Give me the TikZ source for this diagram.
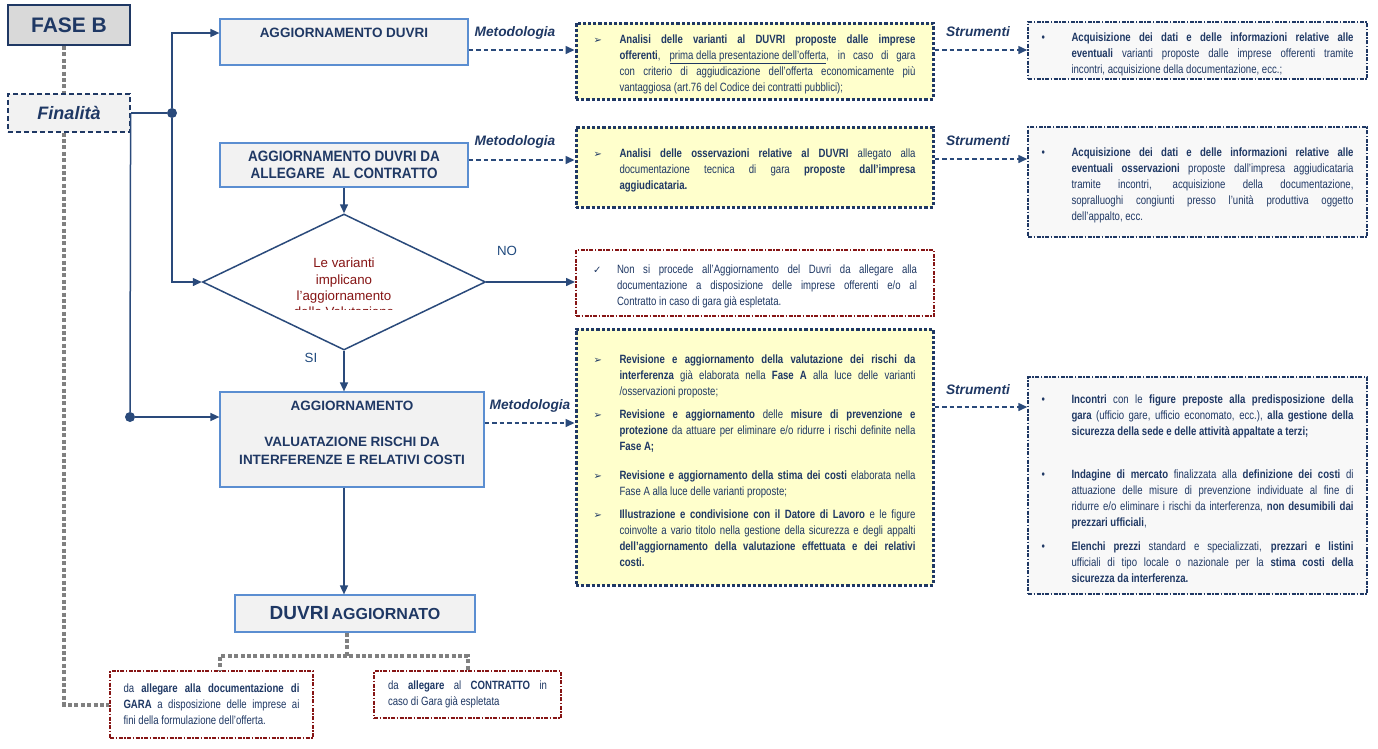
\documentclass[tikz,border=0pt]{standalone}
\usepackage{fontspec}
\setmainfont{Liberation Sans}
\newfontfamily\narrow[FakeStretch=0.8]{Liberation Sans}
\newfontfamily\stretto[FakeStretch=0.9]{Liberation Sans}
\newfontfamily\symf{DejaVu Sans}
\usetikzlibrary{arrows.meta,shapes.geometric}
\definecolor{navy}{HTML}{1F3864}
\definecolor{linie}{HTML}{2A4A7B}
\definecolor{bordo}{HTML}{5B8ED1}
\definecolor{blu}{HTML}{1F497D}
\definecolor{grigio}{HTML}{F2F2F2}
\definecolor{grigiofase}{HTML}{D9D9D9}
\definecolor{grigiochiaro}{HTML}{F8F8F8}
\definecolor{grigioscuro}{HTML}{808080}
\definecolor{giallino}{HTML}{FFFFCC}
\definecolor{rosso}{HTML}{861515}
\setlength{\parindent}{0pt}
\hyphenpenalty=10000 \exhyphenpenalty=10000 \tolerance=10000
\newcommand{\voce}[3]{\par\noindent\hangindent=#1\hangafter=0\llap{\makebox[#1][l]{#2}}#3\par}
\newcommand{\frecc}{{\symf\fontsize{10}{10}\selectfont ➢}}
\newcommand{\spunta}{{\symf\fontsize{10}{10}\selectfont ✓}}
\newcommand{\pallino}{•}
\begin{document}
\begin{tikzpicture}[x=1pt,y=-1pt,
  linea/.style={draw=linie,line width=1.5pt},
  freccia/.style={linea,-{Triangle[length=9pt,width=8pt]}},
  tratt/.style={freccia,dash pattern=on 4.5pt off 3pt},
  punti/.style={draw=grigioscuro,line width=4pt,dash pattern=on 4pt off 2.4pt},
  dot/.style={circle,fill=linie,inner sep=0pt,minimum size=10pt},
  fase/.style={draw=navy,fill=grigiofase,line width=2pt,minimum width=122pt,minimum height=40pt,text=navy,font=\bfseries\fontsize{21}{24}\selectfont},
  fin/.style={draw=navy,fill=grigio,line width=1.2pt,dash pattern=on 5pt off 3pt,minimum width=122pt,minimum height=38pt,text=navy,font=\bfseries\itshape\fontsize{18}{20}\selectfont},
  tbox/.style={draw=bordo,fill=grigio,line width=1.2pt},
  titolo/.style={text=navy,font=\bfseries\fontsize{13.5}{18}\selectfont,align=center},
  etich/.style={text=navy,font=\bfseries\itshape\fontsize{13.7}{16}\selectfont},
  siono/.style={text=blu,font=\fontsize{13.3}{16}\selectfont},
  rombo/.style={diamond,draw=linie,line width=1.5pt,fill=white,inner sep=0pt,minimum width=283pt,minimum height=136pt},
  domanda/.style={text=rosso,font=\fontsize{13.3}{16.3}\selectfont,align=center},
  testo/.style={text=navy,font=\narrow\fontsize{12}{16}\selectfont,align=justify,inner ysep=0pt},
  giallo/.style={testo,draw=navy,fill=giallino,line width=3pt,dash pattern=on 3.2pt off 2pt,text width=322pt,inner xsep=17.5pt},
  strum/.style={testo,draw=navy,fill=grigiochiaro,line width=1.5pt,dash pattern=on 4pt off 1.5pt on 1.5pt off 1.5pt,text width=312pt,inner xsep=13.5pt},
  nota/.style={testo,draw=rosso,fill=white,line width=2pt,dash pattern=on 4pt off 1.5pt on 1.5pt off 1.5pt}]
  \useasboundingbox (0,0) rectangle (1378,748);
  % colonna sinistra
  \node[fase] (fase) at (69,25) {FASE B};
  \node[fin] (fin) at (69,113) {Finalità};
  \node[dot] (j1) at (172,113) {}; \node[dot] (j2) at (130,417) {};
  % caselle centrali
  \node[tbox,minimum width=248pt,minimum height=46pt] (agg1) at (344,42) {};
  \node[titolo] (t1) at (344,33) {AGGIORNAMENTO DUVRI};
  \node[tbox,minimum width=248pt,minimum height=44pt,text=navy,align=center,font=\stretto\bfseries\fontsize{15}{17}\selectfont] (agg2) at (344,165) {AGGIORNAMENTO DUVRI DA\\ALLEGARE\ \ AL CONTRATTO};
  \node[rombo] (q) at (344,282) {};
  \begin{scope} \clip (200,210) rectangle (490,309);
    \node[domanda] (qt) at (344,287.5) {Le varianti\\implicano\\l’aggiornamento\\della Valutazione};
  \end{scope}
  \node[siono] (no) at (507,251) {NO}; \node[siono] (si) at (311,358) {SI};
  \node[tbox,minimum width=264pt,minimum height=95pt] (agg3) at (352,439.5) {};
  \node[titolo] (t3) at (352,433) {AGGIORNAMENTO\\[18pt]VALUATAZIONE RISCHI DA\\INTERFERENZE E RELATIVI COSTI};
  \node[tbox,minimum width=240pt,minimum height=37pt,text=navy,font=\bfseries] (duvri) at (355,613.5) {{\fontsize{19}{20}\selectfont DUVRI} {\fontsize{16}{20}\selectfont AGGIORNATO}};
  % etichette
  \node[etich] (m1) at (515,33) {Metodologia}; \node[etich] (m2) at (515,142) {Metodologia}; \node[etich] (m3) at (530,406) {Metodologia};
  \node[etich] (s1) at (978,32) {Strumenti}; \node[etich] (s2) at (978,141) {Strumenti}; \node[etich] (s3) at (978,390) {Strumenti};
  % metodologia
  \node[giallo,minimum height=76pt] (gia1) at (754.5,61) {\voce{26pt}{\frecc}{\textbf{Analisi delle varianti al DUVRI proposte dalle imprese} \linebreak \textbf{offerenti}, \underline{prima della presentazione dell’offerta}, in caso di gara \linebreak con criterio di aggiudicazione dell’offerta economicamente più \linebreak vantaggiosa (art.76 del Codice dei contratti pubblici);}};
  \node[giallo,minimum height=80pt] (gia2) at (754.5,167) {\voce{26pt}{\frecc}{\textbf{Analisi delle osservazioni relative al DUVRI} allegato alla \linebreak documentazione tecnica di gara \textbf{proposte dall’impresa} \linebreak \textbf{aggiudicataria.}}};
  \node[nota,text width=324pt,inner xsep=17pt,minimum height=66pt] (nono) at (755,283) {\voce{24pt}{\spunta}{Non si procede all’Aggiornamento del Duvri da allegare alla \linebreak documentazione a disposizione delle imprese offerenti e/o al \linebreak Contratto in caso di gara già espletata.}};
  \node[giallo,minimum height=256pt] (gia3) at (754.5,457) {%
    \voce{26pt}{\frecc}{\textbf{Revisione e aggiornamento della valutazione dei rischi da} \linebreak \textbf{interferenza} già elaborata nella \textbf{Fase A} alla luce delle varianti \linebreak /osservazioni proposte;}\vskip7pt
    \voce{26pt}{\frecc}{\textbf{Revisione e aggiornamento} delle \textbf{misure di prevenzione e} \linebreak \textbf{protezione} da attuare per eliminare e/o ridurre i rischi definite nella \linebreak \textbf{Fase A;}}\vskip13pt
    \voce{26pt}{\frecc}{\textbf{Revisione e aggiornamento della stima dei costi} elaborata nella \linebreak Fase A alla luce delle varianti proposte;}\vskip7pt
    \voce{26pt}{\frecc}{\textbf{Illustrazione e condivisione con il Datore di Lavoro} e le figure \linebreak coinvolte a vario titolo nella gestione della sicurezza e degli appalti \linebreak \textbf{dell’aggiornamento della valutazione effettuata e dei relativi} \linebreak \textbf{costi.}}};
  % strumenti
  \node[strum,minimum height=57pt] (str1) at (1197.5,50.5) {\voce{30pt}{\pallino}{\textbf{Acquisizione dei dati e delle informazioni relative alle} \linebreak \textbf{eventuali} varianti proposte dalle imprese offerenti tramite \linebreak incontri, acquisizione della documentazione, ecc.;}};
  \node[strum,minimum height=110pt] (str2) at (1197.5,182) {\voce{30pt}{\pallino}{\textbf{Acquisizione dei dati e delle informazioni relative alle} \linebreak \textbf{eventuali osservazioni} proposte dall’impresa aggiudicataria \linebreak tramite incontri, acquisizione della documentazione, \linebreak sopralluoghi congiunti presso l’unità produttiva oggetto \linebreak dell’appalto, ecc.}};
  \node[strum,minimum height=217pt] (str3) at (1197.5,485.5) {%
    \voce{30pt}{\pallino}{\textbf{Incontri} con le \textbf{figure preposte alla predisposizione della} \linebreak \textbf{gara} (ufficio gare, ufficio economato, ecc.), \textbf{alla gestione della} \linebreak \textbf{sicurezza della sede e delle attività appaltate a terzi;}}\vskip27pt
    \voce{30pt}{\pallino}{\textbf{Indagine di mercato} finalizzata alla \textbf{definizione dei costi} di \linebreak attuazione delle misure di prevenzione individuate al fine di \linebreak ridurre e/o eliminare i rischi da interferenza, \textbf{non desumibili dai} \linebreak \textbf{prezzari ufficiali},}\vskip8pt
    \voce{30pt}{\pallino}{\textbf{Elenchi prezzi} standard e specializzati, \textbf{prezzari e listini} \linebreak ufficiali di tipo locale o nazionale per la \textbf{stima costi della} \linebreak \textbf{sicurezza da interferenza.}}};
  % destinazioni
  \node[nota,text width=176pt,inner xsep=13.5pt,minimum height=67pt] (gara) at (211.5,704.5) {da \textbf{allegare alla documentazione di} \linebreak \textbf{GARA} a disposizione delle imprese ai \linebreak fini della formulazione dell’offerta.};
  \node[nota,text width=159pt,inner xsep=14pt,minimum height=47pt] (contr) at (467.5,694.5) {da \textbf{allegare} al \textbf{CONTRATTO} in \linebreak caso di Gara già espletata};
  \coordinate (ram) at (347,656);
  % collegamenti
  \draw[punti] ([xshift=-5pt]fase.south) -- ([xshift=-5pt]fin.north);
  \draw[punti] ([xshift=-5pt]fin.south) |- (gara.west);
  \draw[punti] (duvri.south -| ram) -- (ram) -| (contr.north); \draw[punti] (ram) -| ([xshift=8.5pt]gara.north);
  \draw[linea] (fin.east) -- (j1); \draw[linea] (fin.east) -- (j2);
  \draw[freccia] (j1) |- (agg1.west |- t1); \draw[freccia] (j1) |- (q.west); \draw[freccia] (j2) -- (agg3.west |- j2);
  \draw[freccia] (agg2) -- (q); \draw[freccia] (q.east) -- (nono.west |- q.east);
  \draw[freccia] (q.south) -- (q.south |- agg3.north); \draw[freccia] (q.south |- agg3.south) -- (q.south |- duvri.north);
  \draw[tratt] (agg1.east |- 0,50) -- (gia1.west |- 0,50); \draw[tratt] (agg2.east |- 0,160) -- (gia2.west |- 0,160); \draw[tratt] (agg3.east |- 0,423) -- (gia3.west |- 0,423);
  \draw[tratt] (gia1.east |- 0,50) -- (str1.west |- 0,50); \draw[tratt] (gia2.east |- 0,159) -- (str2.west |- 0,159); \draw[tratt] (gia3.east |- 0,407) -- (str3.west |- 0,407);
\end{tikzpicture}
\end{document}
